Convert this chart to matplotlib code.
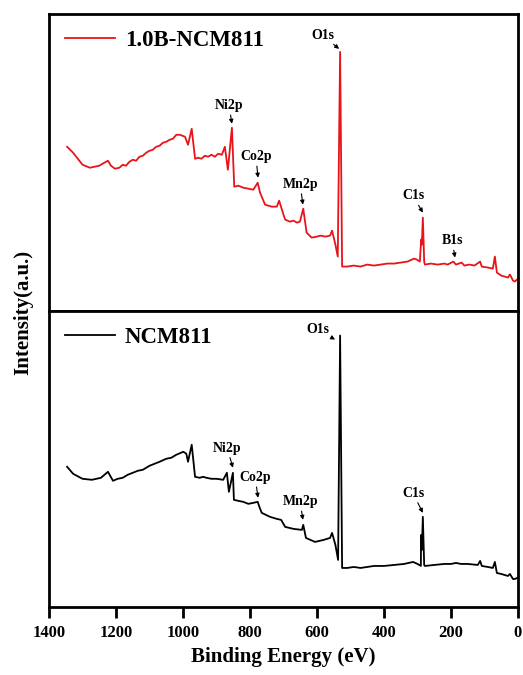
import matplotlib
matplotlib.use('Agg')
import matplotlib.pyplot as plt

plt.rcParams['font.family'] = ['Liberation Serif', 'DejaVu Serif']
plt.rcParams['font.weight'] = 'bold'

# binding energy (eV) and intensity (a.u.) for 1.0B-NCM811
e_b = [1346, 1328, 1300, 1278, 1250, 1235, 1224, 1215, 1203, 1190, 1180, 1170, 1160, 1150,
       1140, 1130, 1120, 1110, 1100, 1090, 1080, 1070, 1060, 1050, 1040, 1030, 1020, 1009,
       994, 985, 974, 964, 955, 945, 935, 925, 915, 905, 895, 884, 875, 866, 854, 847,
       835, 820, 805, 790, 777, 770, 755, 735, 720, 713, 700, 695, 681, 670, 660, 651,
       641, 631, 616, 600, 590, 575, 561, 555, 545, 538, 531, 525, 510, 490, 470, 450,
       430, 410, 390, 370, 350, 330, 310, 302, 293, 289, 287, 284, 280, 278, 260, 240,
       220, 210, 193, 185, 168, 160, 145, 130, 113, 108, 90, 75, 69, 63, 50, 40,
       30, 24, 15, 9, 3]
i_b = [164, 158, 146, 143, 145, 148, 150, 145, 142, 143, 146, 145, 149, 151,
       150, 154, 155, 158, 160, 161, 164, 165, 168, 169, 171, 172, 176, 176,
       174, 166, 182, 152, 153, 152, 155, 154, 156, 154, 157, 156, 164, 141, 183, 124,
       125, 123, 122, 121, 128, 118, 106, 104, 104, 110, 96, 91, 89, 90, 88, 89,
       102, 78, 73, 74, 75, 74, 75, 80, 66, 54, 259, 44, 44, 45, 44, 46,
       45, 46, 47, 47, 48, 49, 52, 51, 49, 71, 66, 93, 49, 46, 47, 46,
       47, 46, 49, 46, 48, 45, 46, 45, 49, 44, 43, 42, 54, 38, 35, 34,
       33, 36, 30, 29, 31]

# pristine NCM811
e_p = [1346, 1328, 1300, 1272, 1245, 1224, 1209, 1195, 1180, 1165, 1150, 1135, 1120, 1100,
       1085, 1070, 1050, 1035, 1020, 999, 990, 985, 974, 964, 950, 940, 930, 915, 900,
       880, 869, 863, 851, 848, 835, 820, 805, 790, 777, 772, 765, 740, 720, 707, 695,
       670, 645, 641, 633, 606, 580, 561, 555, 545, 537, 531, 525, 510, 490, 470, 450,
       430, 400, 370, 340, 313, 300, 290, 289, 287, 284, 280, 278, 250, 220, 200, 185,
       170, 150, 120, 113, 108, 90, 75, 69, 63, 50, 40, 30, 24, 15, 9, 3]
i_p = [140, 133, 128, 127, 129, 135, 126, 128, 129, 132, 134, 136, 137, 141,
       143, 145, 148, 149, 152, 155, 153, 145, 162, 130, 129, 130, 129, 128, 128,
       127, 134, 115, 134, 107, 106, 105, 103, 104, 105, 100, 94, 90, 88, 87, 80,
       78, 77, 82, 69, 65, 67, 69, 74, 62, 47, 271, 39, 39, 40, 39, 40,
       41, 41, 42, 43, 45, 43, 41, 72, 57, 90, 42, 41, 42, 43, 43, 44,
       43, 43, 42, 46, 41, 40, 39, 45, 34, 33, 32, 31, 33, 28, 28, 29]

# peak labels: name, arrow tip (eV, a.u.), text offset (pt)
top_labels = ['Ni2p', 'Co2p', 'Mn2p', 'O1s', 'C1s', 'B1s']
top_tips = [(854, 187), (776, 133), (642, 106), (534, 262), (284, 98), (188, 53)]
top_offs = [(-2, 13), (-1.5, 15), (-2, 14.5), (-12, 10), (-7, 12), (-2, 12)]

bot_labels = ['Ni2p', 'Co2p', 'Mn2p', 'O1s', 'C1s']
bot_tips = [(851, 139), (776, 109), (642, 87), (546, 267), (284, 94)]
bot_offs = [(-4, 14), (-2, 14.5), (-2, 13), (-12.5, 7), (-7, 14)]

fig, (ax1, ax2) = plt.subplots(2, 1, sharex=True, figsize=(5.23, 6.75), dpi=100)
fig.subplots_adjust(left=0.0937, right=0.9904, bottom=0.1007, top=0.9793, hspace=0)

ax1.plot(e_b, i_b, color='#e8141a', lw=1.3, label='1.0B-NCM811')
ax2.plot(e_p, i_p, color='black', lw=1.3, label='NCM811')

for ax, labels, tips, offs in [(ax1, top_labels, top_tips, top_offs),
                               (ax2, bot_labels, bot_tips, bot_offs)]:
    for lab, tip, off in zip(labels, tips, offs):
        ax.annotate(lab, xy=tip, xytext=off, textcoords='offset points',
                    ha='center', va='center', fontsize=10, fontweight='bold',
                    arrowprops=dict(arrowstyle='-|>', color='black', lw=0.8,
                                    mutation_scale=6, shrinkA=0, shrinkB=0))

ax1.set_ylim(0, 297)
ax2.set_ylim(0, 296)
ax2.set_xlim(1400, 0)
ax2.set_xticks([1400, 1200, 1000, 800, 600, 400, 200, 0])

for ax in (ax1, ax2):
    ax.set_yticks([])
    for s in ax.spines.values():
        s.set_linewidth(2)
    ax.legend(loc='upper left', bbox_to_anchor=(0.035, 0.945), frameon=False,
              handlelength=2.15, handletextpad=0.45, borderpad=0, borderaxespad=0,
              prop={'size': 16.5, 'weight': 'bold'})

ax1.tick_params(axis='x', which='both', bottom=False, labelbottom=False)
ax2.tick_params(axis='x', direction='out', length=8, width=2, pad=5, labelsize=12)
for t in ax2.get_xticklabels():
    t.set_fontweight('bold')
ax2.set_xlabel('Binding Energy (eV)', fontsize=15, fontweight='bold', labelpad=4)

fig.text(23 / 523, 1 - 312 / 675, 'Intensity(a.u.)', rotation=90, ha='center', va='center',
         fontsize=15, fontweight='bold')

fig.savefig('out.png', dpi=100)
